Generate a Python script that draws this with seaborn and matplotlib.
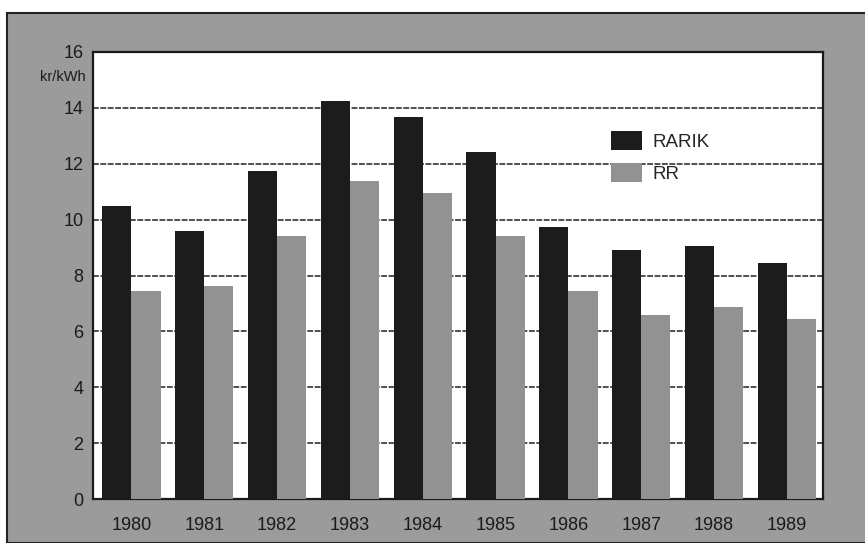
import pandas as pd
import matplotlib.pyplot as plt
import seaborn as sns
from matplotlib.patches import Rectangle
import matplotlib.transforms as mtransforms

years=["1980","1981","1982","1983","1984","1985","1986","1987","1988","1989"]
rarik=[10.5,9.58,11.73,14.25,13.69,12.43,9.72,8.9,9.07,8.46]
rr=[7.46,7.63,9.4,11.4,10.97,9.43,7.45,6.58,6.88,6.43]
series=["RARIK","RR"]
yticks=[0,2,4,6,8,10,12,14,16]

df=pd.DataFrame({"year":years*2,
                 "value":rarik+rr,
                 "series":[series[0]]*len(years)+[series[1]]*len(years)})

sns.set_style("white")
plt.rcParams['font.family']=['Liberation Sans','DejaVu Sans']

bg="#9b9b9b"
fig=plt.figure(figsize=(8.65,5.43),dpi=100,facecolor="white")
# gray card behind the chart
fig.patches.append(Rectangle((7/865,0),1,1-13/543,transform=fig.transFigure,
                             facecolor=bg,edgecolor="#222222",linewidth=1.5,zorder=-5))
ax=fig.add_axes([93/865,44/543,730/865,447/543])
ax.set_zorder(2)
ax.set_facecolor("white")

sns.barplot(data=df,x="year",y="value",hue="series",palette=["#1c1c1c","#929292"],
            width=0.8,saturation=1,linewidth=0,ax=ax,zorder=3)

ax.set_ylim(0,16)
ax.set_xlim(-0.527,9.496)
ax.set_yticks(yticks)
ax.yaxis.grid(True,color="#505050",linewidth=1.4,linestyle=(0,(3,0.8)),zorder=0)
ax.set_axisbelow(True)
ax.tick_params(axis="both",length=0,labelsize=13,colors="#1a1a1a")
ax.tick_params(axis="y",pad=7)
ax.tick_params(axis="x",pad=13)
ax.set_xlabel("")
ax.set_ylabel("")
for s in ax.spines.values():
    s.set_color("#1a1a1a")
    s.set_linewidth(1.6)

trans=mtransforms.blended_transform_factory(ax.transAxes,ax.transData)
ax.text(-0.0096,15.1,"kr/kWh",transform=trans,ha="right",va="center",
        fontsize=10.5,color="#1a1a1a")

handles,labels=ax.get_legend_handles_labels()
ax.legend(handles,labels,loc="upper left",bbox_to_anchor=(0.71,0.823),
          frameon=False,fontsize=13.5,handlelength=1.65,handleheight=1.2,
          labelspacing=0.65,handletextpad=0.55,borderpad=0,borderaxespad=0)

fig.savefig("out.png",dpi=100,facecolor="white")
